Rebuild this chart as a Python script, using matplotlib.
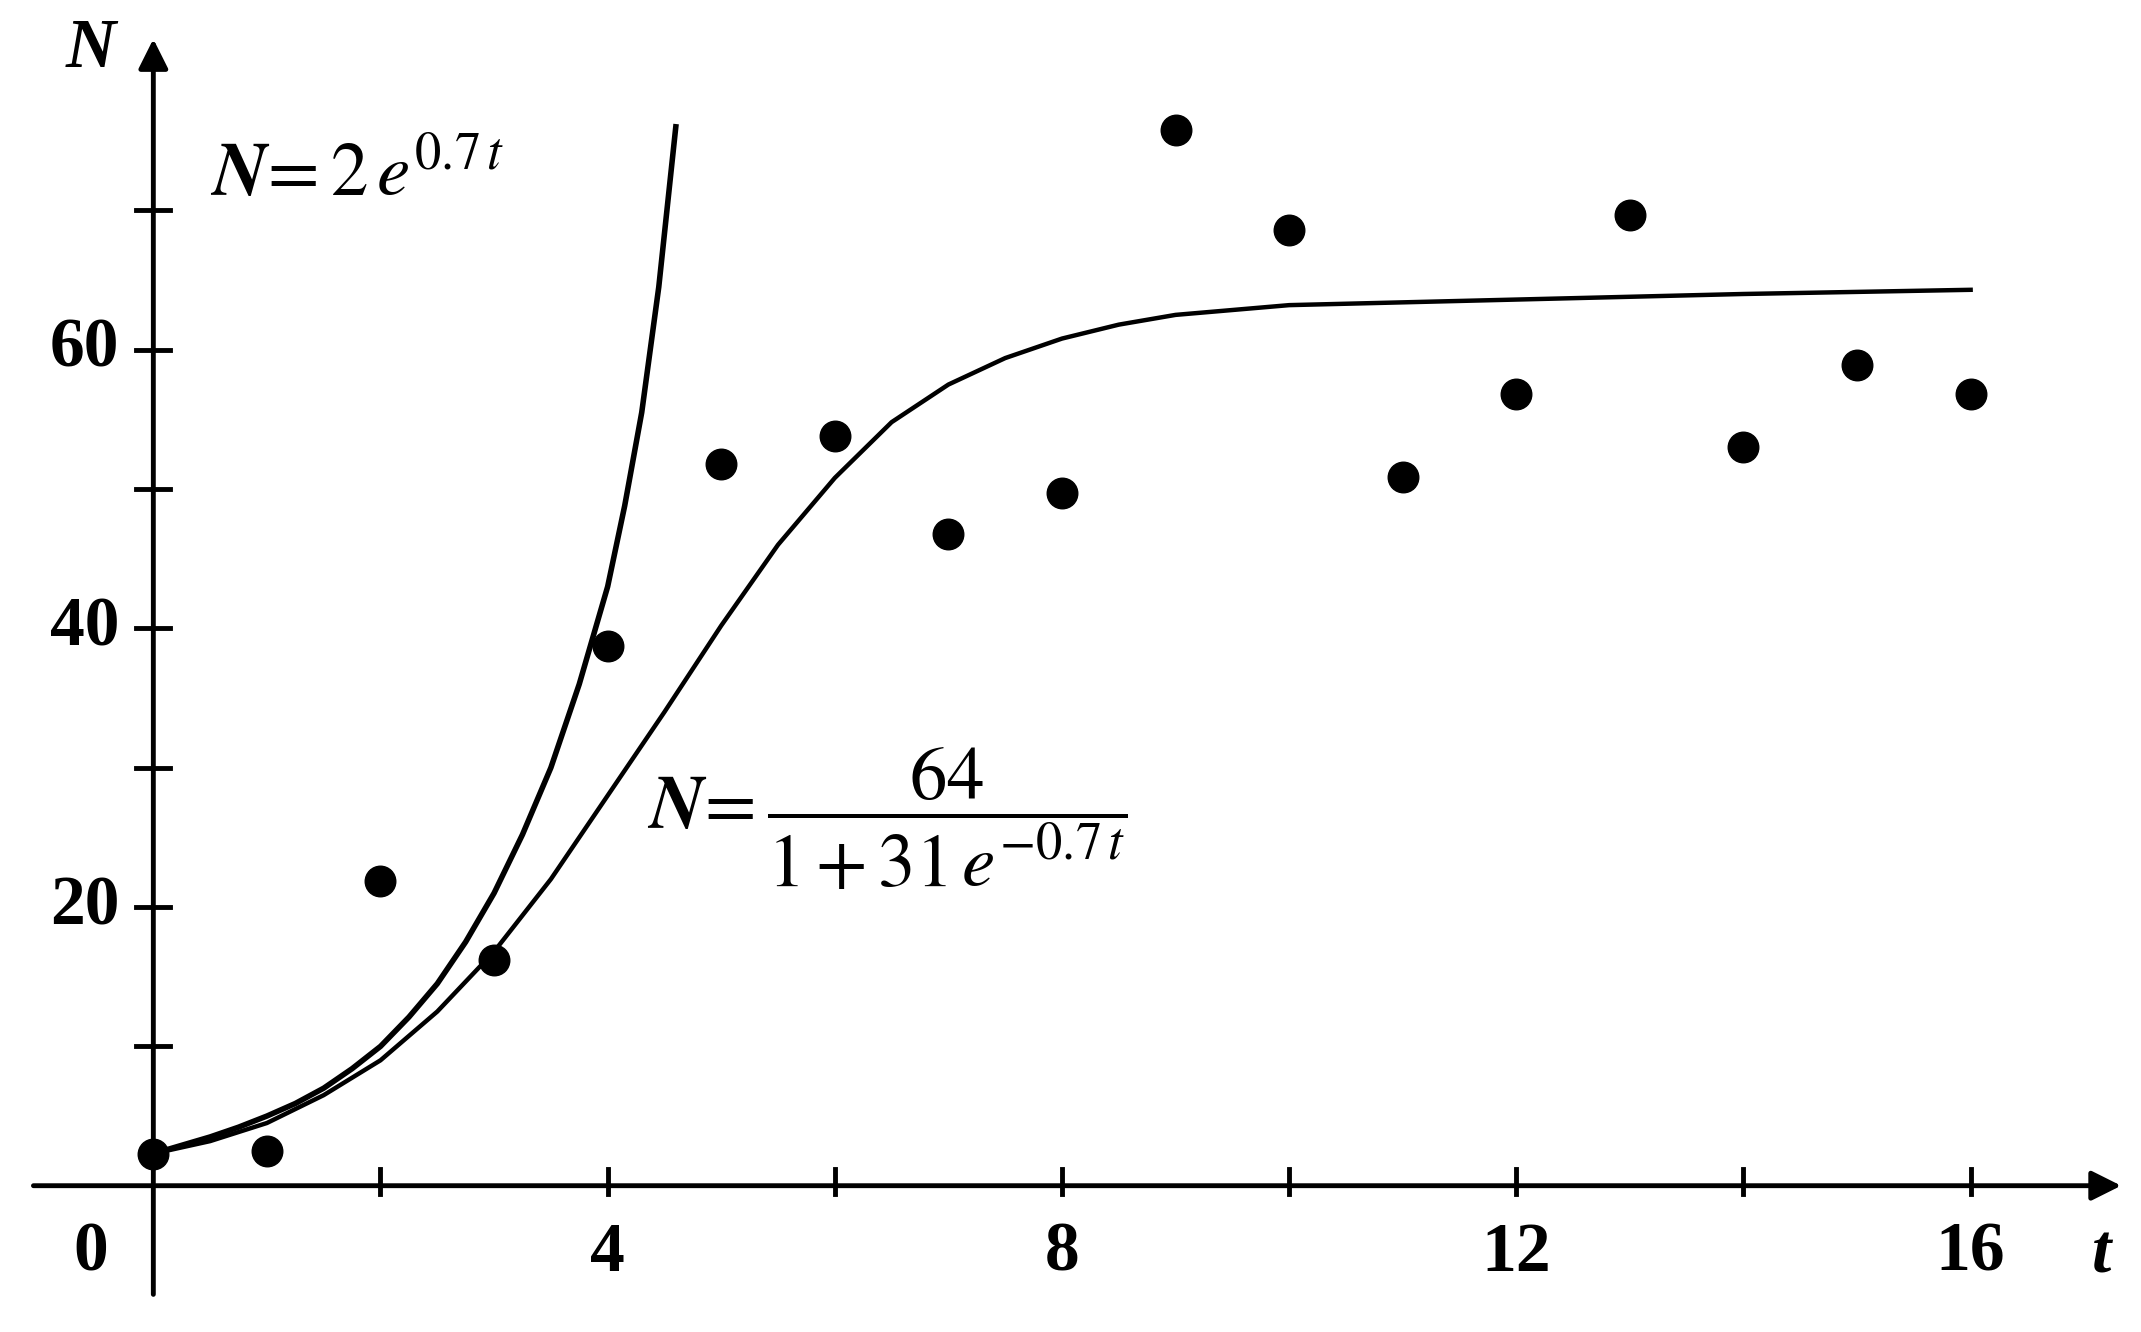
import matplotlib.pyplot as plt
import numpy as np

plt.rcParams['mathtext.fontset'] = 'stix'
plt.rcParams['font.family'] = ['Liberation Serif', 'DejaVu Serif']

# observed data
t_obs = np.arange(0, 17)
n_obs = [2.3, 2.5, 21.9, 16.2, 38.7, 51.8, 53.8, 46.8, 49.7, 75.8,
         68.6, 50.9, 56.8, 69.7, 53.0, 58.9, 56.8]

# exponential model curve as drawn
t_exp = [0, 0.25, 0.5, 0.75, 1, 1.25, 1.5, 1.75, 2, 2.25, 2.5, 2.75, 3, 3.25,
         3.5, 3.75, 4, 4.15, 4.3, 4.45, 4.6]
n_exp = [2.3, 2.9, 3.5, 4.2, 5.0, 5.9, 7.0, 8.4, 10.0, 12.1, 14.5, 17.5, 21.0,
         25.2, 30.0, 36.0, 43.0, 48.8, 55.5, 64.5, 76.0]

# logistic model curve as drawn
t_log = [0, 0.5, 1, 1.5, 2, 2.5, 3, 3.5, 4, 4.5, 5, 5.5, 6, 6.5, 7, 7.5, 8,
         8.5, 9, 10, 12, 14, 16]
n_log = [2.3, 3.2, 4.5, 6.5, 9, 12.5, 16.8, 22, 28, 34, 40.2, 46, 50.8, 54.8,
         57.5, 59.4, 60.8, 61.8, 62.5, 63.2, 63.6, 64.0, 64.3]

fig = plt.figure(figsize=(21.41, 13.32), dpi=100)
ax = fig.add_axes([0, 0, 1, 1])
ax.set_xlim(-1.35, 17.5)
ax.set_ylim(-10.5, 85.1)
ax.axis('off')

# axes with arrows
ax.annotate('', xy=(17.35, 0), xytext=(-1.08, 0),
            arrowprops=dict(arrowstyle='-|>', lw=3.5, color='black', mutation_scale=45))
ax.annotate('', xy=(0, 82.5), xytext=(0, -8),
            arrowprops=dict(arrowstyle='-|>', lw=3.5, color='black', mutation_scale=45))

for x in range(2, 17, 2):
    ax.plot([x, x], [-0.6, 1.2], color='black', lw=3.5)
for y in range(10, 80, 10):
    ax.plot([-0.15, 0.15], [y, y], color='black', lw=3.5)

for x in [4, 8, 12, 16]:
    ax.text(x, -2.6, str(x), ha='center', va='top', fontsize=50, fontweight='bold')
for y in [20, 40, 60]:
    ax.text(-0.3, y, str(y), ha='right', va='center', fontsize=50, fontweight='bold')
ax.text(-0.55, -2.6, '0', ha='center', va='top', fontsize=50, fontweight='bold')
ax.text(-0.55, 81.5, 'N', ha='center', va='center', fontsize=50, fontweight='bold', style='italic')
ax.text(17.15, -5, 't', ha='center', va='center', fontsize=50, fontweight='bold', style='italic')

ax.plot(t_exp, n_exp, color='black', lw=4)
ax.plot(t_log, n_log, color='black', lw=3.2)
ax.plot(t_obs, n_obs, 'o', color='black', markersize=22)

ax.text(0.5, 72.3, r'$\boldsymbol{N}\!=2\,e^{0.7\,t}$', fontsize=54, va='center', ha='left')
ax.text(4.35, 26.3, r'$\boldsymbol{N}\!=\dfrac{64}{1+31\,e^{-0.7\,t}}$', fontsize=54, va='center', ha='left')

fig.savefig('out.png', dpi=100)
